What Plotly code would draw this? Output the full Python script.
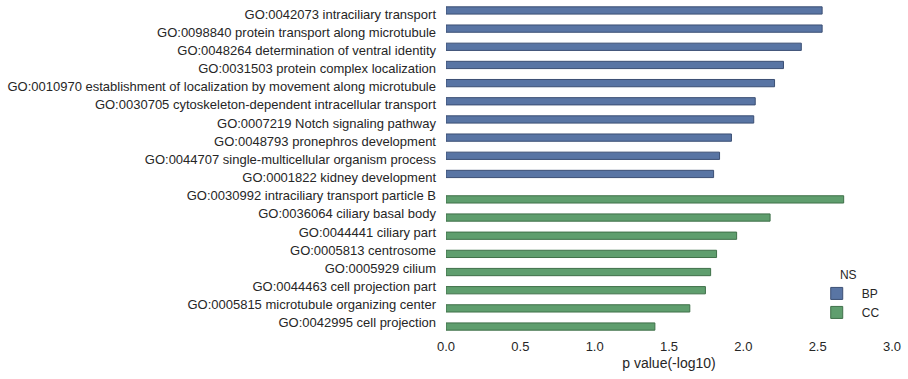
import plotly.graph_objects as go

bp_terms = [
    "GO:0042073 intraciliary transport",
    "GO:0098840 protein transport along microtubule",
    "GO:0048264 determination of ventral identity",
    "GO:0031503 protein complex localization",
    "GO:0010970 establishment of localization by movement along microtubule",
    "GO:0030705 cytoskeleton-dependent intracellular transport",
    "GO:0007219 Notch signaling pathway",
    "GO:0048793 pronephros development",
    "GO:0044707 single-multicellular organism process",
    "GO:0001822 kidney development",
]
bp_values = [2.53, 2.53, 2.39, 2.27, 2.21, 2.08, 2.07, 1.92, 1.84, 1.80]

cc_terms = [
    "GO:0030992 intraciliary transport particle B",
    "GO:0036064 ciliary basal body",
    "GO:0044441 ciliary part",
    "GO:0005813 centrosome",
    "GO:0005929 cilium",
    "GO:0044463 cell projection part",
    "GO:0005815 microtubule organizing center",
    "GO:0042995 cell projection",
]
cc_values = [2.675, 2.18, 1.955, 1.82, 1.78, 1.745, 1.64, 1.405]

x_ticks = [0.0, 0.5, 1.0, 1.5, 2.0, 2.5, 3.0]
x_title = "p value(-log10)"
legend_title = "NS"

categories = bp_terms + cc_terms

bp_x = [bp_values[bp_terms.index(c)] if c in bp_terms else None for c in categories]
cc_x = [cc_values[cc_terms.index(c)] if c in cc_terms else None for c in categories]

fig = go.Figure()
fig.add_trace(go.Bar(
    y=categories, x=bp_x, orientation="h", name="BP",
    marker=dict(color="#5975a4", line=dict(color="#3b4f74", width=1)),
))
fig.add_trace(go.Bar(
    y=categories, x=cc_x, orientation="h", name="CC",
    marker=dict(color="#5f9e6e", line=dict(color="#3f7049", width=1)),
))

fig.update_layout(
    width=908, height=379,
    margin=dict(l=446, r=16, t=5, b=47, autoexpand=False),
    paper_bgcolor="white", plot_bgcolor="white",
    barmode="group", bargap=0.2, bargroupgap=0,
    font=dict(family="Liberation Sans, Arial, sans-serif", size=13, color="#262626"),
    showlegend=True,
    legend=dict(
        title=dict(text=legend_title, side="top center", font=dict(size=12)),
        x=0.82, y=0.21, xanchor="left", yanchor="top",
        font=dict(size=12), bgcolor="rgba(0,0,0,0)",
        traceorder="normal", itemwidth=40,
    ),
)
fig.update_xaxes(
    range=[0, 3.0], tickvals=x_ticks, ticktext=[f"{v:.1f}" for v in x_ticks],
    showgrid=False, zeroline=False, showline=False, ticks="",
    ticklabelstandoff=5,
    title=dict(text=x_title, font=dict(size=14), standoff=5),
    tickfont=dict(size=13), automargin=False,
)
fig.update_yaxes(
    categoryorder="array", categoryarray=categories, autorange="reversed",
    showgrid=False, zeroline=False, showline=False, ticks="",
    ticklabelstandoff=9, tickfont=dict(size=13), automargin=False,
)

fig.write_html(
    "out.html",
    config={"displayModeBar": False},
    post_script="document.body.style.margin='0';document.body.style.overflow='hidden';",
)
